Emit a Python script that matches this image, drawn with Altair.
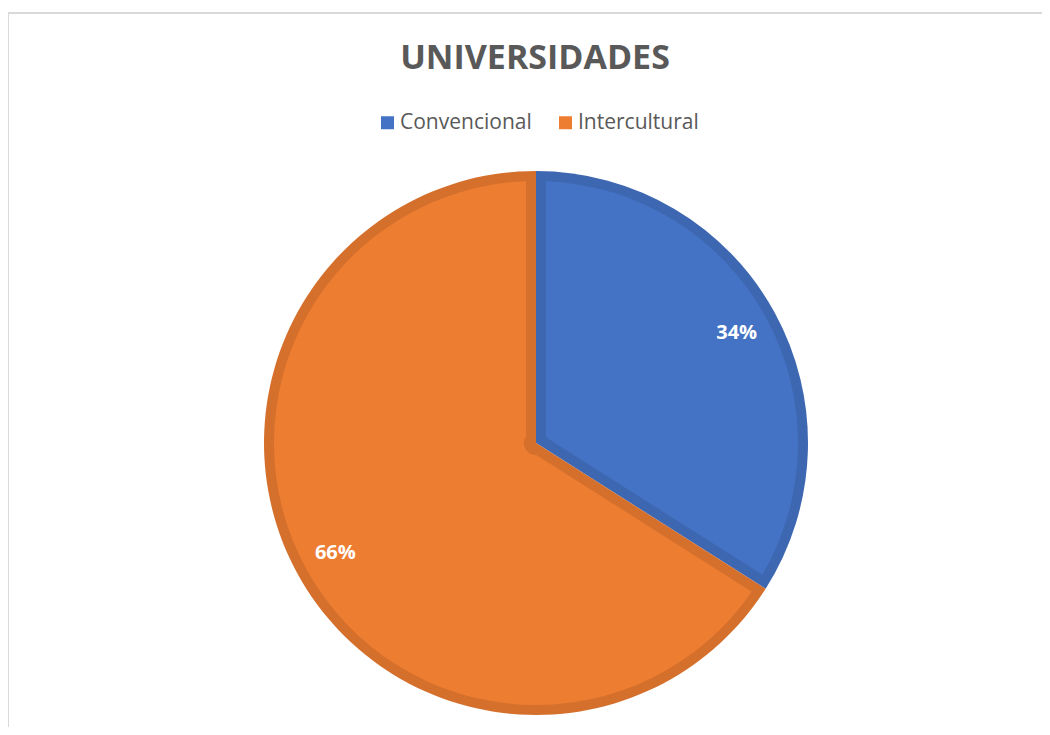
import altair as alt
import pandas as pd

categories = ["Convencional", "Intercultural"]
values = [34, 66]
labels = ["34%", "66%"]
title_text = ["UNIVERSIDADES"]
light_colors = ["#4472C4", "#ED7D31"]
dark_colors = ["#3E67B1", "#D5702C"]

df = pd.DataFrame({"categoria": categories, "valor": values, "etiqueta": labels})

CX, CY = 528, 275

theta = alt.Theta("valor:Q", stack=True)
order = alt.Order("categoria:N", sort="ascending")

dark = alt.Chart(df).mark_arc(outerRadius=272).encode(
    theta=theta,
    order=order,
    x=alt.value(CX),
    y=alt.value(CY),
    color=alt.Color("categoria:N", scale=alt.Scale(domain=categories, range=dark_colors), legend=None),
)

light = alt.Chart(df).mark_arc(outerRadius=262, innerRadius=12, padAngle=0.0763).encode(
    theta=theta,
    order=order,
    x=alt.value(CX),
    y=alt.value(CY),
    color=alt.Color(
        "categoria:N",
        scale=alt.Scale(domain=categories, range=light_colors),
        legend=alt.Legend(
            title=None,
            orient="none",
            legendX=369,
            legendY=-56,
            direction="horizontal",
            columns=2,
            symbolType="square",
            symbolSize=169,
            symbolStrokeWidth=0,
            labelFontSize=21,
            labelFont="Open Sans",
            labelColor="#595959",
            columnPadding=23,
            labelOffset=2,
            padding=0,
        ),
    ),
)

text = alt.Chart(df).mark_text(
    radius=229, fontSize=20, fontWeight="bold", color="white", font="Open Sans"
).encode(
    theta=theta,
    order=order,
    x=alt.value(CX),
    y=alt.value(CY),
    text="etiqueta:N",
)

title = alt.Chart(pd.DataFrame({"t": title_text})).mark_text(
    fontSize=34, fontWeight="bold", color="#595959", font="Open Sans",
    align="center", baseline="alphabetic",
).encode(
    x=alt.value(527), y=alt.value(-99), text="t:N"
)

one = pd.DataFrame({"f": [0]})
top_line = alt.Chart(one).mark_rule(stroke="#D9D9D9", strokeWidth=2).encode(
    x=alt.value(0), x2=alt.value(1100), y=alt.value(-155)
)
left_line = alt.Chart(one).mark_rule(stroke="#D9D9D9", strokeWidth=2).encode(
    x=alt.value(0), y=alt.value(-155), y2=alt.value(800)
)

chart = (
    alt.layer(top_line, left_line, dark, light, text, title)
    .resolve_scale(color="independent")
    .properties(
        width=1034,
        height=559,
        background="white",
        autosize=alt.AutoSizeParams(type="none"),
        padding={"left": 0, "top": 160, "right": 0, "bottom": 0},
    )
    .configure_view(stroke=None)
)

chart.save("out.html", embed_options={"renderer": "svg", "actions": False})
